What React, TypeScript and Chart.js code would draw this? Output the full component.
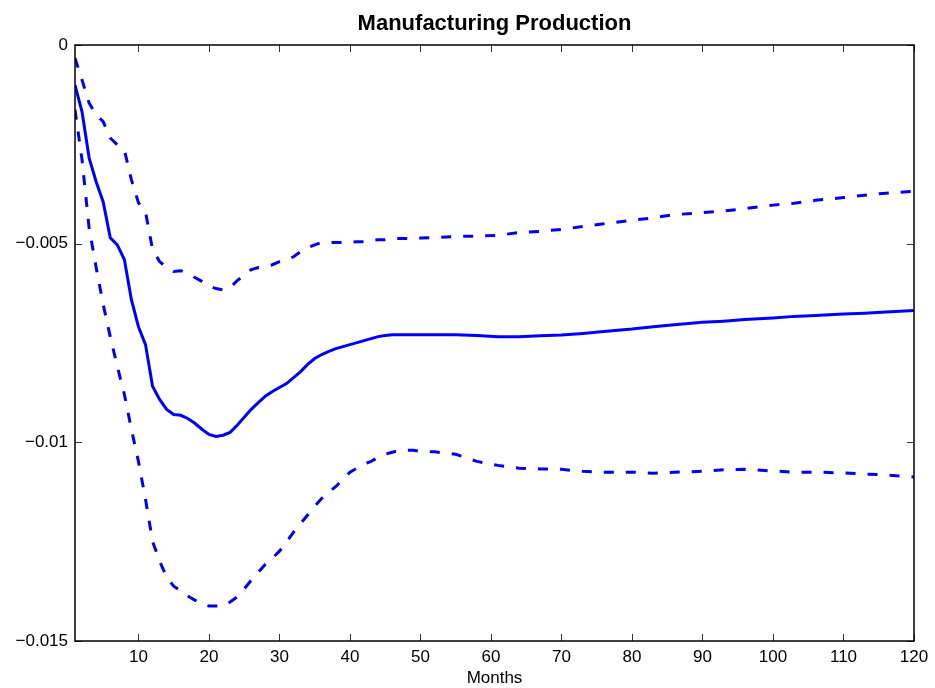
import React, { useEffect, useRef } from 'react';
import { Chart, registerables } from 'chart.js';

Chart.register(...registerables);

const chartTitle = 'Manufacturing Production';
const xAxisTitle = 'Months';

const months = [
  1, 2, 3, 4, 5, 6, 7, 8, 9, 10,
  11, 12, 13, 14, 15, 16, 17, 18, 19, 20,
  21, 22, 23, 24, 25, 26, 27, 28, 29, 30,
  31, 32, 33, 34, 35, 36, 37, 38, 39, 40,
  41, 42, 43, 44, 45, 46, 47, 48, 49, 50,
  52, 55, 58, 61, 64, 67, 70, 73, 76, 80, 83,
  86, 90, 93, 96, 100, 103, 106, 110, 113, 116, 120,
];

const irf = [
  -0.00101, -0.00168, -0.00284, -0.00344, -0.00395, -0.00485, -0.00503, -0.0054, -0.00641, -0.00709,
  -0.00754, -0.00859, -0.00892, -0.00917, -0.0093, -0.00932, -0.0094, -0.00952, -0.00967, -0.0098,
  -0.00985, -0.00982, -0.00975, -0.00957, -0.00937, -0.00917, -0.009, -0.00884, -0.00872, -0.00862,
  -0.00852, -0.00837, -0.00822, -0.00804, -0.00789, -0.00779, -0.00771, -0.00764, -0.00759, -0.00754,
  -0.00749, -0.00744, -0.00739, -0.00734, -0.00731, -0.00729, -0.00729, -0.00729, -0.00729, -0.00729,
  -0.00729, -0.00729, -0.00731, -0.00734, -0.00734, -0.00732, -0.0073, -0.00726, -0.00721, -0.00715, -0.00709,
  -0.00704, -0.00698, -0.00695, -0.00691, -0.00687, -0.00683, -0.00681, -0.00677, -0.00675, -0.00672, -0.00668,
];

const upperBand = [
  -0.00033, -0.00088, -0.00146, -0.00176, -0.00193, -0.00234, -0.00251, -0.00264, -0.00339, -0.00397,
  -0.0042, -0.00515, -0.00545, -0.0056, -0.0057, -0.00568, -0.00575, -0.00585, -0.00595, -0.00606,
  -0.00613, -0.00616, -0.00611, -0.00593, -0.0058, -0.00565, -0.0056, -0.00558, -0.00553, -0.00545,
  -0.0054, -0.00533, -0.0052, -0.0051, -0.00503, -0.00497, -0.00497, -0.00497, -0.00497, -0.00497,
  -0.00495, -0.00495, -0.00492, -0.0049, -0.0049, -0.00487, -0.00487, -0.00487, -0.00487, -0.00486,
  -0.00485, -0.00482, -0.00481, -0.00479, -0.00472, -0.00469, -0.00464, -0.00457, -0.0045, -0.00441, -0.00435,
  -0.00427, -0.00422, -0.00418, -0.00412, -0.00403, -0.00398, -0.00391, -0.00384, -0.00378, -0.00373, -0.00368,
];

const lowerBand = [
  -0.00163, -0.00289, -0.0046, -0.0056, -0.00653, -0.00734, -0.00809, -0.00879, -0.00967, -0.01048,
  -0.01143, -0.01249, -0.01299, -0.01339, -0.01362, -0.01374, -0.01387, -0.01397, -0.01407, -0.01412,
  -0.01412, -0.01412, -0.01402, -0.01389, -0.01369, -0.01347, -0.01327, -0.01307, -0.01291, -0.01274,
  -0.01251, -0.01226, -0.01204, -0.01183, -0.01161, -0.01141, -0.01126, -0.01111, -0.01093, -0.01075,
  -0.01065, -0.01055, -0.01048, -0.01038, -0.0103, -0.01025, -0.0102, -0.0102, -0.0102, -0.01023,
  -0.01024, -0.0103, -0.01048, -0.01058, -0.01065, -0.01067, -0.01068, -0.01073, -0.01075, -0.01075, -0.01078,
  -0.01075, -0.01073, -0.01069, -0.01068, -0.01072, -0.01075, -0.01075, -0.01077, -0.0108, -0.01082, -0.01087,
];

const xTickValues = [10, 20, 30, 40, 50, 60, 70, 80, 90, 100, 110, 120];
const xTickLabels = ['10', '20', '30', '40', '50', '60', '70', '80', '90', '100', '110', '120'];
const yTickValues = [0, -0.005, -0.01, -0.015];
const yTickLabels = ['0', '\u22120.005', '\u22120.01', '\u22120.015'];

const FONT = '"Liberation Sans", Arial, Helvetica, sans-serif';
const BLUE = '#0000ff';

function labelFor(values: number[], labels: string[], v: number): string {
  for (let i = 0; i < values.length; i++) {
    if (Math.abs(values[i] - v) < 1e-9) return labels[i];
  }
  return '';
}

const framePlugin = {
  id: 'matlabFrame',
  afterDraw(chart: any) {
    const { ctx, chartArea } = chart;
    const { left, right, top, bottom } = chartArea;
    const xs = chart.scales.x;
    const ys = chart.scales.y;
    ctx.save();
    ctx.strokeStyle = '#333';
    ctx.lineWidth = 1;
    ctx.beginPath();
    xTickValues.forEach((v) => {
      const px = Math.round(xs.getPixelForValue(v)) + 0.5;
      ctx.moveTo(px, bottom);
      ctx.lineTo(px, bottom - 7);
      ctx.moveTo(px, top);
      ctx.lineTo(px, top + 7);
    });
    yTickValues.forEach((v) => {
      const py = Math.round(ys.getPixelForValue(v)) + 0.5;
      ctx.moveTo(left, py);
      ctx.lineTo(left + 7, py);
      ctx.moveTo(right, py);
      ctx.lineTo(right - 7, py);
    });
    ctx.stroke();
    ctx.strokeStyle = '#000';
    ctx.lineWidth = 1.5;
    ctx.strokeRect(left, top, right - left, bottom - top);
    ctx.fillStyle = '#000';
    ctx.textAlign = 'center';
    ctx.textBaseline = 'alphabetic';
    ctx.font = 'bold 22px ' + FONT;
    ctx.fillText(chartTitle, (left + right) / 2, 30);
    ctx.font = '17px ' + FONT;
    ctx.fillText(xAxisTitle, (left + right) / 2, 683);
    ctx.restore();
  },
};

export default function App() {
  const canvasRef = useRef<HTMLCanvasElement | null>(null);

  useEffect(() => {
    const canvas = canvasRef.current;
    if (!canvas) return;
    const toPoints = (vals: number[]) => months.map((m, i) => ({ x: m, y: vals[i] }));
    const chart = new Chart(canvas, {
      type: 'line',
      data: {
        datasets: [
          {
            label: 'IRF',
            data: toPoints(irf),
            borderColor: BLUE,
            borderWidth: 3,
            pointRadius: 0,
            tension: 0,
            fill: false,
          },
          {
            label: 'Upper',
            data: toPoints(upperBand),
            borderColor: BLUE,
            borderWidth: 3,
            borderDash: [10, 12],
            pointRadius: 0,
            tension: 0,
            fill: false,
          },
          {
            label: 'Lower',
            data: toPoints(lowerBand),
            borderColor: BLUE,
            borderWidth: 3,
            borderDash: [10, 12],
            pointRadius: 0,
            tension: 0,
            fill: false,
          },
        ],
      },
      options: {
        animation: false,
        responsive: false,
        devicePixelRatio: 1,
        parsing: false as any,
        layout: { padding: { top: 45, right: 21, left: 0, bottom: 0 } },
        plugins: {
          legend: { display: false },
          title: { display: false },
          tooltip: { enabled: false },
        },
        scales: {
          x: {
            type: 'linear',
            min: 1,
            max: 120,
            grid: { display: false, drawTicks: false },
            border: { display: false },
            afterBuildTicks: (s: any) => {
              s.ticks = xTickValues.map((v) => ({ value: v }));
            },
            afterFit: (s: any) => {
              s.height = 47;
            },
            ticks: {
              padding: 6,
              color: '#000',
              maxRotation: 0,
              autoSkip: false,
              font: { family: FONT, size: 17 },
              callback: (v: any) => labelFor(xTickValues, xTickLabels, Number(v)),
            },
          },
          y: {
            type: 'linear',
            min: -0.015,
            max: 0,
            grid: { display: false, drawTicks: false },
            border: { display: false },
            afterBuildTicks: (s: any) => {
              s.ticks = yTickValues.map((v) => ({ value: v }));
            },
            afterFit: (s: any) => {
              s.width = 75;
            },
            ticks: {
              padding: 7,
              color: '#000',
              font: { family: FONT, size: 17 },
              callback: (v: any) => labelFor(yTickValues, yTickLabels, Number(v)),
            },
          },
        },
      },
      plugins: [framePlugin],
    } as any);
    return () => chart.destroy();
  }, []);

  return (
    <div style={{ position: 'fixed', left: 0, top: 0, width: 935, height: 688, background: '#fff' }}>
      <canvas ref={canvasRef} width={935} height={688} style={{ display: 'block' }} />
    </div>
  );
}
